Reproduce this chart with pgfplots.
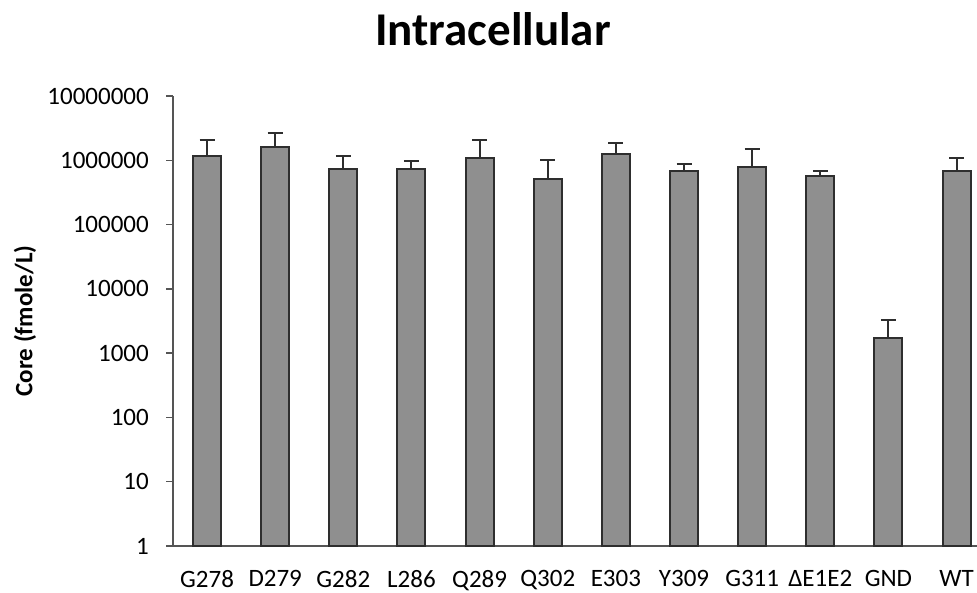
\documentclass[border=0pt]{standalone}
\usepackage{pgfplots}
\pgfplotsset{compat=1.18}
\usepackage{fontspec}
\setmainfont{Carlito}
\definecolor{barfill}{HTML}{8F8F8F}
\definecolor{baredge}{HTML}{2E2E2E}
\definecolor{axcol}{HTML}{555555}
\begin{document}
\begin{tikzpicture}
\begin{axis}[
  scale only axis,
  width=804pt, height=450pt,
  xmin=-0.5, xmax=11.3,
  ymode=log, ymin=1, ymax=1e7,
  axis lines*=left,
  axis line style={draw=axcol, line width=1.5pt},
  ybar, bar width=28pt,
  xtick={0,1,2,3,4,5,6,7,8,9,10,11},
  xticklabels={G278,D279,G282,L286,Q289,Q302,E303,Y309,G311,ΔE1E2,GND,WT},
  x tick style={draw=none},
  ytick={1,10,100,1000,10000,100000,1000000,10000000},
  yticklabels={1,10,100,1000,10000,100000,1000000,10000000},
  yminorticks=false,
  y tick style={draw=axcol, line width=1.5pt},
  tick align=outside, major tick length=7pt,
  xticklabel style={font=\fontsize{25}{30}\selectfont, anchor=north, inner sep=0pt, yshift=-17pt},
  yticklabel style={font=\fontsize{25}{30}\selectfont, anchor=east, inner sep=0pt, xshift=-17pt},
  ylabel={\textbf{Core (fmole/L)}},
  every axis y label/.style={at={(rel axis cs:0,0.5)}, xshift=-148pt, rotate=90, anchor=center, font=\fontsize{25}{30}\selectfont},
  title={\textbf{Intracellular}},
  title style={at={(rel axis cs:0.5,1)}, anchor=center, xshift=-82pt, yshift=61pt, font=\fontsize{47}{56}\selectfont},
  clip=false,
]
\addplot[fill=barfill, draw=baredge, line width=2pt,
  error bars/.cd, y dir=plus, y explicit,
  error bar style={draw=baredge, line width=2pt},
  error mark options={draw=baredge, line width=2pt, mark size=7.5pt, rotate=90}]
  table[x=x, y=y, y error plus=e] {
x y e
0 1160000 940000
1 1620000 1000000
2 730000 430000
3 730000 230000
4 1090000 1010000
5 520000 500000
6 1250000 620000
7 690000 200000
8 780000 720000
9 560000 130000
10 1700 1570
11 690000 400000
};
\coordinate (O) at (rel axis cs:0,0);
\coordinate (T) at (rel axis cs:1,1);
\end{axis}
\pgfresetboundingbox
\path ([xshift=-173pt,yshift=-47pt]O) rectangle ([yshift=96pt]T);
\end{tikzpicture}
\end{document}
